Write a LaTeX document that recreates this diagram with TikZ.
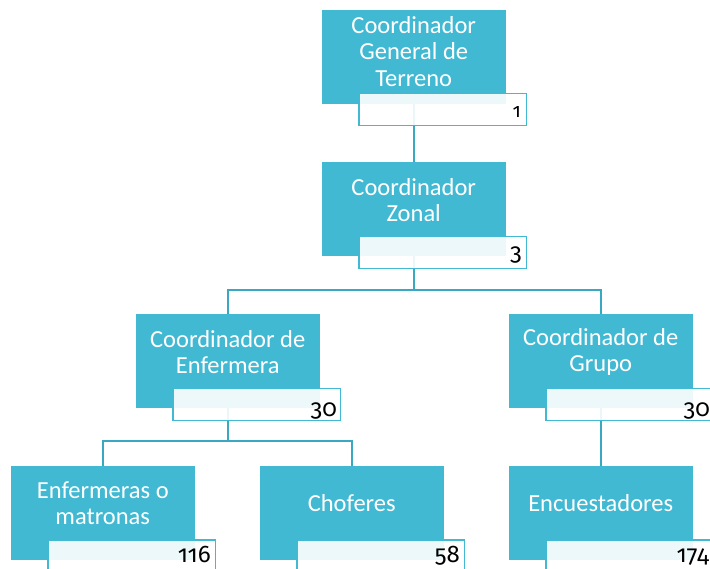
\documentclass[tikz,border=0pt]{standalone}
\usepackage{fontspec}
\setmainfont{Carlito}
\newfontfamily\numfont[Numbers=OldStyle]{Fira Sans}

\definecolor{boxteal}{RGB}{66,185,211}
\definecolor{linkteal}{RGB}{58,168,194}

\tikzset{
  orgbox/.style={fill=boxteal, draw=none, minimum width=183.5pt, minimum height=94pt,
                 inner sep=0pt, anchor=north west},
  orgtext/.style={text=white, align=center, inner sep=0pt,
                  font=\fontsize{24.5}{26.5}\selectfont},
  numbox/.style={fill=white, fill opacity=0.9, draw=boxteal, line width=1.5pt,
                 minimum width=167.5pt, minimum height=32pt, inner sep=0pt, anchor=north west},
  numtext/.style={text=black, inner sep=0pt, anchor=base east,
                  font=\numfont\fontsize{24}{24}\selectfont},
  link/.style={draw=linkteal, line width=2pt},
}

\begin{document}
\begin{tikzpicture}[x=1pt, y=-1pt]
\useasboundingbox (0,0) rectangle (710,569);
\clip (0,0) rectangle (710,569);

% teal position boxes
\node[orgbox] (gen) at (322,10) {};
\node[orgbox] (zon) at (322,162) {};
\node[orgbox] (enf) at (136,314) {};
\node[orgbox] (gru) at (509,314) {};
\node[orgbox] (mat) at (11,465.5) {};
\node[orgbox] (cho) at (260,465.5) {};
\node[orgbox] (enc) at (509,465.5) {};

% titles, centred above the count boxes
\node[orgtext] (genT) at (413.75,51.5) {Coordinador\\General de\\Terreno};
\node[orgtext] (zonT) at (413.75,200) {Coordinador\\Zonal};
\node[orgtext] (enfT) at (227.75,352) {Coordinador de\\Enfermera};
\node[orgtext] (gruT) at (600.75,352) {Coordinador de\\Grupo};
\node[orgtext] (matT) at (102.75,503) {Enfermeras o\\matronas};
\node[orgtext] (choT) at (351.75,503) {Choferes};
\node[orgtext] (encT) at (600.75,503) {Encuestadores};

% connectors
\draw[link] (gen.south) -- (zon.north);
\draw[link] (zon.south) -- ++(0,34) coordinate (zj);
\draw[link] (zj) -| (enf.north);
\draw[link] (zj) -| (gru.north);
\draw[link] (enf.south) -- ++(0,33) coordinate (ej);
\draw[link] (ej) -| (mat.north);
\draw[link] (ej) -| (cho.north);
\draw[link] (gru.south) -- (enc.north);

% count boxes
\node[numbox] (genN) at (358,93) {};
\node[numbox] (zonN) at (358,236) {};
\node[numbox] (enfN) at (172,388) {};
\node[numbox] (gruN) at (545,388) {};
\node[numbox] (matN) at (47,539) {};
\node[numbox] (choN) at (296,539) {};
\node[numbox] (encN) at (545,539) {};

% counts
\node[numtext, font=\numfont\fontsize{19.5}{19.5}\selectfont] at ([shift={(-6,-9)}]genN.south east) {1};
\node[numtext] at ([shift={(-5,-9)}]zonN.south east) {3};
\node[numtext] at ([shift={(-4,-5)}]enfN.south east) {30};
\node[numtext] at ([shift={(-4,-5)}]gruN.south east) {30};
\node[numtext] at ([shift={(-5,-10)}]matN.south east) {116};
\node[numtext] at ([shift={(-5,-10)}]choN.south east) {58};
\node[numtext] at ([shift={(-5,-10)}]encN.south east) {174};
\end{tikzpicture}
\end{document}
